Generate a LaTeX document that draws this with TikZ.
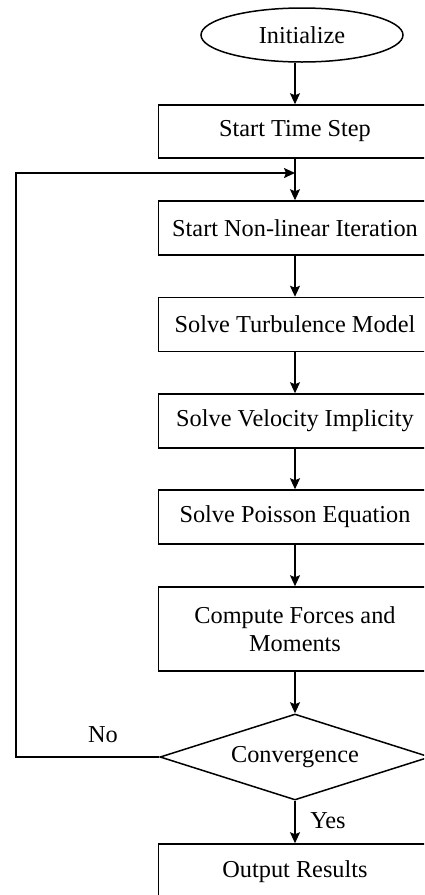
\documentclass[tikz,border=0pt]{standalone}
\usepackage{fontspec}
\setmainfont{Liberation Serif}
\usetikzlibrary{shapes.geometric,arrows.meta}
\begin{document}
\begin{tikzpicture}[x=1pt,y=-1pt,
  every node/.style={font=\fontsize{24.3}{28}\selectfont},
  procbox/.style={draw,line width=1.5pt,rectangle,minimum width=273pt,minimum height=54pt,inner sep=0pt,align=center},
  termnode/.style={draw,line width=1.5pt,ellipse,minimum width=202pt,minimum height=54pt,inner sep=0pt},
  decnode/.style={draw,line width=1.5pt,diamond,aspect=3.14,minimum width=270pt,minimum height=86pt,inner sep=0pt},
  arr/.style={line width=1.5pt,-{Stealth[length=11pt,width=10pt,inset=2pt]}},
  lbl/.style={inner sep=0pt}]
\useasboundingbox (0,0) rectangle (424,895);
\clip (0,0) rectangle (424,895);
\node[termnode] (init) at (302,35) {Initialize};
\node[procbox] (ts) at (295,131.5) [minimum height=53pt] {Start Time Step};
\node[procbox] (nl) at (295,228) {Start Non-linear Iteration};
\node[procbox] (tm) at (295,324.5) {Solve Turbulence Model};
\node[procbox] (vi) at (295,421) {Solve Velocity Implicity};
\node[procbox] (pe) at (295,517) {Solve Poisson Equation};
\node[procbox] (cf) at (295,629) [minimum height=84pt] {Compute Forces and\\Moments};
\node[decnode] (conv) at (295,757) {Convergence};
\node[procbox] (out) at (295,872) [minimum height=56pt] {Output Results};
\coordinate (join) at (295,173);
\coordinate (lft) at (16,757);
\node[lbl] (no) at (103,735) {No};
\node[lbl] (yes) at (328,821) {Yes};
\draw[arr] (init.south -| ts.north) -- (ts.north);
\draw[arr] (ts) -- (nl);
\draw[arr] (nl) -- (tm);
\draw[arr] (tm) -- (vi);
\draw[arr] (vi) -- (pe);
\draw[arr] (pe) -- (cf);
\draw[arr] (cf) -- (conv);
\draw[arr] (conv) -- (out);
\draw[arr] (conv.west) -- (lft) |- (join);
\end{tikzpicture}
\end{document}
